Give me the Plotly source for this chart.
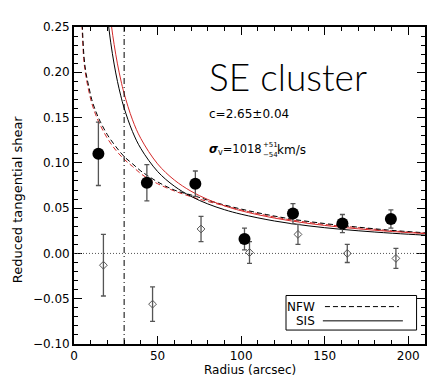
import plotly.graph_objects as go

# ---------------- data ----------------
# tangential shear (filled circles)
r_t = [14.6, 43.6, 72.6, 102.0, 131.0, 160.6, 189.6]
g_t = [0.110, 0.078, 0.077, 0.016, 0.044, 0.033, 0.038]
g_t_err = [0.035, 0.020, 0.014, 0.012, 0.011, 0.010, 0.010]

# cross shear (open diamonds)
r_x = [17.6, 47.0, 76.0, 105.0, 134.0, 163.5, 192.6]
g_x = [-0.013, -0.056, 0.027, 0.001, 0.021, 0.000, -0.0055]
g_x_err = [0.034, 0.019, 0.014, 0.012, 0.011, 0.010, 0.011]

# NFW model curves (dashed)
nfw_r_black = [4.5, 5.0, 6.0, 7.2, 9.0, 10.6, 13.0, 15.6, 20.0, 25.0, 30.0, 35.0,
               40.0, 44.0, 50.0, 60.0, 73.0, 85.0, 100.0, 115.0, 130.0, 150.0,
               170.0, 190.0, 210.0]
nfw_g_black = [0.270, 0.250, 0.217, 0.199, 0.183, 0.170, 0.157, 0.146, 0.131,
               0.118, 0.107, 0.099, 0.091, 0.086, 0.079, 0.070, 0.063, 0.056,
               0.049, 0.043, 0.038, 0.033, 0.029, 0.0255, 0.0228]
nfw_r_red = [4.3, 4.8, 5.8, 7.0, 9.0, 10.6, 13.0, 15.6, 20.0, 25.0, 30.0, 35.0,
             40.0, 44.0, 50.0, 60.0, 73.0, 85.0, 100.0, 115.0, 130.0, 150.0,
             170.0, 190.0, 210.0]
nfw_g_red = [0.270, 0.250, 0.215, 0.197, 0.178, 0.166, 0.153, 0.142, 0.127,
             0.114, 0.104, 0.096, 0.088, 0.083, 0.077, 0.069, 0.061, 0.055,
             0.048, 0.042, 0.037, 0.032, 0.0285, 0.025, 0.0224]

# SIS model curves (solid)
sis_r_black = [20.0, 22.0, 24.0, 26.0, 28.0, 30.0, 35.0, 40.0, 50.0, 60.0, 70.0,
               80.0, 90.0, 100.0, 120.0, 140.0, 160.0, 180.0, 200.0, 210.0]
sis_g_black = [0.262, 0.2325, 0.2091, 0.1899, 0.1740, 0.1605, 0.1345, 0.1158,
               0.0905, 0.0743, 0.0630, 0.0547, 0.0483, 0.0433, 0.0358, 0.0305,
               0.0266, 0.0236, 0.0212, 0.0202]
sis_r_red = [21.0, 22.5, 24.0, 26.0, 28.0, 30.0, 35.0, 40.0, 50.0, 60.0, 70.0,
             80.0, 90.0, 100.0, 120.0, 140.0, 160.0, 180.0, 200.0, 210.0]
sis_g_red = [0.273, 0.250, 0.2308, 0.2093, 0.1915, 0.1765, 0.1475, 0.1268,
             0.0989, 0.0811, 0.0687, 0.0596, 0.0526, 0.0471, 0.0390, 0.0332,
             0.0289, 0.0256, 0.0230, 0.0219]

r_cut = 30.0          # vertical dash-dot line
x_ticks = [0, 50, 100, 150, 200]
y_ticks = [-0.10, -0.05, 0.00, 0.05, 0.10, 0.15, 0.20, 0.25]
y_tick_labels = ["\u22120.10", "\u22120.05", "0.00", "0.05", "0.10", "0.15", "0.20", "0.25"]

RED = "#d42a2a"
FONT = "DejaVu Sans"

fig = go.Figure()

# model curves
fig.add_trace(go.Scatter(x=nfw_r_red, y=nfw_g_red, mode="lines", line_shape="spline",
                         line=dict(color=RED, width=1, dash="5px,3px"), showlegend=False))
fig.add_trace(go.Scatter(x=nfw_r_black, y=nfw_g_black, mode="lines", line_shape="spline",
                         line=dict(color="black", width=1, dash="5px,3px"), showlegend=False))
fig.add_trace(go.Scatter(x=sis_r_red, y=sis_g_red, mode="lines", line_shape="spline",
                         line=dict(color=RED, width=1), showlegend=False))
fig.add_trace(go.Scatter(x=sis_r_black, y=sis_g_black, mode="lines", line_shape="spline",
                         line=dict(color="black", width=1), showlegend=False))

# cross shear
fig.add_trace(go.Scatter(x=r_x, y=g_x, mode="markers",
                         marker=dict(symbol="diamond-open", size=6, color="#555",
                                     line=dict(width=1, color="#555")),
                         error_y=dict(type="data", array=g_x_err, color="#555",
                                      thickness=1.3, width=2.5),
                         showlegend=False))
# tangential shear
fig.add_trace(go.Scatter(x=r_t, y=g_t, mode="markers",
                         marker=dict(symbol="circle", size=12, color="black"),
                         error_y=dict(type="data", array=g_t_err, color="#555",
                                      thickness=1.3, width=2.5),
                         showlegend=False))

fig.add_vline(x=r_cut, line=dict(color="black", width=1, dash="6px,3px,1px,3px"))
fig.add_hline(y=0, line=dict(color="#555", width=1, dash="1px,2px"))

axis_common = dict(showline=True, linecolor="black", linewidth=1.8, mirror="ticks",
                   ticks="inside", ticklen=8, tickwidth=1, tickcolor="black",
                   showgrid=False, zeroline=False,
                   tickfont=dict(family=FONT, size=12, color="black"))

fig.update_xaxes(range=[0, 210], tickvals=x_ticks,
                 minor=dict(ticks="inside", ticklen=4, dtick=10, tickcolor="black", tickwidth=1),
                 **axis_common)
fig.update_yaxes(range=[-0.10, 0.25], tickvals=y_ticks, ticktext=y_tick_labels,
                 minor=dict(ticks="inside", ticklen=4, dtick=0.01, tickcolor="black", tickwidth=1),
                 **axis_common)

ann = []
ann.append(dict(text="Radius (arcsec)", x=0.5, y=-0.082, xref="paper", yref="paper",
                xanchor="center", yanchor="middle", showarrow=False,
                font=dict(family=FONT, size=12, color="black")))
ann.append(dict(text="Reduced tangential shear", x=-0.16, y=0.456, xref="paper", yref="paper",
                xanchor="center", yanchor="middle", textangle=-90, showarrow=False,
                font=dict(family=FONT, size=13, color="black")))
ann.append(dict(text="SE cluster", x=0.379, y=0.845, xref="paper", yref="paper",
                xanchor="left", yanchor="middle", showarrow=False,
                font=dict(family="Lato", size=37, color="black", weight=300)))
ann.append(dict(text="c=2.65\u00b10.04", x=0.379, y=0.726, xref="paper", yref="paper",
                xanchor="left", yanchor="middle", showarrow=False,
                font=dict(family=FONT, size=12, color="black")))
ann.append(dict(text="<b><i>\u03c3</i></b><sub>v</sub>=1018", x=0.379, y=0.612, xref="paper",
                yref="paper", xanchor="left", yanchor="middle", showarrow=False,
                font=dict(family=FONT, size=11.5, color="black")))
ann.append(dict(text="+51", x=0.533, y=0.627, xref="paper", yref="paper",
                xanchor="left", yanchor="middle", showarrow=False,
                font=dict(family=FONT, size=7, color="black")))
ann.append(dict(text="\u221254", x=0.533, y=0.597, xref="paper", yref="paper",
                xanchor="left", yanchor="middle", showarrow=False,
                font=dict(family=FONT, size=7, color="black")))
ann.append(dict(text="km/s", x=0.574, y=0.612, xref="paper", yref="paper",
                xanchor="left", yanchor="middle", showarrow=False,
                font=dict(family=FONT, size=12, color="black")))
# legend texts
ann.append(dict(text="NFW", x=0.692, y=0.118, xref="paper", yref="paper",
                xanchor="right", yanchor="middle", showarrow=False,
                font=dict(family=FONT, size=12, color="black")))
ann.append(dict(text="SIS", x=0.692, y=0.073, xref="paper", yref="paper",
                xanchor="right", yanchor="middle", showarrow=False,
                font=dict(family=FONT, size=12, color="black")))

shapes = [
    dict(type="rect", xref="paper", yref="paper", x0=0.604, x1=0.976, y0=0.044, y1=0.153,
         line=dict(color="black", width=1), fillcolor="white", layer="above"),
    dict(type="line", xref="paper", yref="paper", x0=0.715, x1=0.926, y0=0.118, y1=0.118,
         line=dict(color="black", width=1, dash="5px,3px"), layer="above"),
    dict(type="line", xref="paper", yref="paper", x0=0.709, x1=0.937, y0=0.073, y1=0.073,
         line=dict(color="black", width=1), layer="above"),
]

# the page body adds an 8px offset, so the figure is 8px smaller and margins shifted
fig.update_layout(width=439, height=383, margin=dict(l=66, r=22, t=15, b=47),
                  plot_bgcolor="white", paper_bgcolor="white",
                  annotations=ann, shapes=list(fig.layout.shapes) + shapes,
                  showlegend=False)

fig.write_html("out.html")
